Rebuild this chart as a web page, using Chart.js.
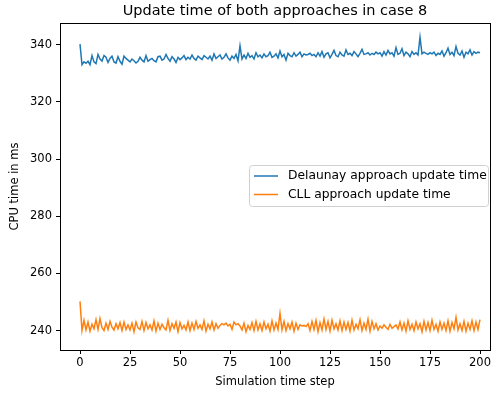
<!DOCTYPE html>
<html>
<head>
<meta charset="utf-8">
<script src="https://cdn.jsdelivr.net/npm/chart.js@4/dist/chart.umd.min.js"></script>
<style>
  body { margin: 0; background: #fff; }
  canvas { display: block; }
</style>
</head>
<body>
<canvas id="chart" width="494" height="394"></canvas>
<script>
// время обновления по шагам симуляции
const delaunayTimes = [
  340.2, 333.0, 334.0, 333.5, 334.2, 333.0, 336.2, 334.0, 333.4, 336.6,
  335.0, 334.3, 336.2, 335.6, 333.8, 335.2, 336.0, 334.0, 333.6, 335.8,
  334.2, 333.2, 336.0, 335.2, 334.6, 334.0, 335.0, 334.4, 333.6, 334.2,
  335.6, 334.6, 334.0, 336.2, 334.2, 334.8, 335.2, 334.4, 334.0, 335.8,
  336.0, 334.6, 335.0, 336.6, 335.2, 334.2, 335.8, 335.0, 333.8, 335.6,
  334.8, 335.4, 336.2, 334.8, 335.6, 335.0, 336.4, 335.2, 334.6, 336.0,
  335.4, 334.8, 336.2, 335.6, 335.0, 336.0, 334.6, 336.8, 335.2, 335.8,
  336.4, 335.0, 335.6, 336.8, 335.4, 334.6, 336.0, 335.2, 336.6, 334.4,
  339.6, 335.0, 336.4, 335.2, 337.0, 335.6, 336.2, 335.0, 337.2, 335.8,
  336.4, 335.4, 336.8, 335.8, 336.2, 337.4, 335.6, 336.0, 336.8, 335.4,
  337.8, 335.8, 336.6, 334.6, 337.0, 336.2, 335.8, 337.2, 336.0, 336.6,
  337.4, 335.8, 336.8, 336.4, 336.6, 337.0, 336.2, 336.6, 335.8, 337.2,
  336.0, 337.6, 335.6, 336.8, 337.2, 335.4, 336.6, 338.0, 336.2, 335.8,
  337.4, 336.4, 336.0, 338.2, 336.6, 337.0, 336.2, 337.6, 336.8, 335.8,
  337.0, 338.4, 336.6, 336.8, 337.2, 336.4, 337.0, 336.6, 337.4, 336.8,
  337.2, 336.0, 337.6, 336.4, 338.0, 336.8, 337.2, 336.0, 339.0, 336.6,
  337.0, 338.6, 336.2, 337.4, 336.8, 335.8, 337.6, 336.6, 337.2, 336.4,
  342.6, 336.8, 337.4, 337.0, 336.6, 337.2, 336.8, 337.4, 336.2, 337.0,
  336.6, 337.8, 336.0, 337.2, 338.8, 336.6, 337.4, 336.2, 339.4, 337.0,
  336.4, 337.8, 335.6, 337.4, 336.8, 338.2, 336.4, 337.6, 337.0, 337.4,
  337.2
];

const cllTimes = [
  250.2, 240.0, 243.6, 240.2, 243.0, 239.8, 242.2, 240.6, 243.8, 240.4,
  244.2, 241.0, 240.0, 242.6, 240.4, 243.2, 241.2, 240.2, 242.4, 240.6,
  242.8, 240.0, 243.0, 240.4, 242.0, 240.2, 242.6, 239.6, 243.0, 241.0,
  240.4, 243.2, 240.0, 242.8, 240.6, 242.0, 240.2, 243.4, 239.8, 242.6,
  240.4, 242.2, 241.0, 240.2, 243.6, 240.0, 242.4, 240.8, 243.0, 239.6,
  242.8, 240.6, 241.8, 240.2, 243.0, 240.0, 242.6, 240.4, 243.2, 240.8,
  242.0, 240.4, 243.4, 239.8, 242.2, 240.6, 243.0, 240.2, 242.4, 240.8,
  241.8, 242.4, 242.0, 242.6, 241.6, 242.2, 240.4, 243.0, 242.0, 242.4,
  241.6, 240.2, 242.6, 239.6, 241.8, 240.4, 242.8, 240.0, 243.2, 240.2,
  242.4, 240.0, 243.0, 240.6, 242.2, 239.8, 243.4, 240.2, 242.6, 240.4,
  246.0, 240.2, 243.2, 240.0, 242.4, 240.6, 243.0, 239.8, 242.6, 240.4,
  242.0, 241.6, 241.8, 241.4, 242.4, 240.0, 243.2, 240.4, 243.6, 239.6,
  242.8, 240.2, 244.0, 240.4, 243.2, 239.8, 243.6, 240.6, 242.4, 240.2,
  243.4, 240.0, 243.0, 240.4, 242.8, 239.8, 243.6, 240.2, 242.2, 240.6,
  243.8, 240.0, 242.6, 240.4, 244.0, 239.8, 243.2, 240.6, 242.4, 240.2,
  241.6, 240.8, 242.0, 241.2, 240.4, 242.2, 240.8, 241.4, 242.0, 240.6,
  243.0, 240.2, 242.6, 239.8, 243.4, 240.4, 242.2, 240.0, 243.0, 240.6,
  242.4, 239.6, 243.2, 240.2, 242.8, 240.0, 243.6, 240.4, 242.2, 239.8,
  243.0, 240.4, 242.6, 240.0, 243.4, 239.8, 242.8, 240.6, 244.6, 240.2,
  242.4, 240.0, 243.2, 239.8, 242.6, 240.4, 243.4, 240.0, 243.0, 240.4,
  243.8
];

const seriesNames = ['Delaunay approach update time', 'CLL approach update time'];
const seriesColors = ['#1f77b4', '#ff7f0e'];
const xTicks = [0, 25, 50, 75, 100, 125, 150, 175, 200];
const yTicks = [240, 260, 280, 300, 320, 340];

const FONT = 'DejaVu Sans';

function toPoints(values) {
  return values.map((v, i) => ({x: i, y: v}));
}

// рамка вокруг области графика как в matplotlib
const framePlugin = {
  id: 'frame',
  afterDraw(chart) {
    const {ctx, chartArea: a} = chart;
    ctx.save();
    ctx.strokeStyle = '#000';
    ctx.lineWidth = 1;
    ctx.strokeRect(Math.round(a.left) + 0.5, Math.round(a.top) + 0.5,
      Math.round(a.right - a.left), Math.round(a.bottom - a.top));
    ctx.restore();
  }
};

const titlePlugin = {
  id: 'mplTitle',
  afterDraw(chart) {
    const {ctx, chartArea: a} = chart;
    ctx.save();
    ctx.fillStyle = '#000';
    ctx.font = '14.5px "' + FONT + '"';
    ctx.textAlign = 'center';
    ctx.textBaseline = 'middle';
    ctx.fillText('Update time of both approaches in case 8', (a.left + a.right) / 2, 11);
    ctx.restore();
  }
};

// легенда внутри области графика
const legendPlugin = {
  id: 'mplLegend',
  afterDraw(chart) {
    const {ctx} = chart;
    const x = 249, y = 165, w = 239, h = 41;
    ctx.save();
    ctx.fillStyle = 'rgba(255,255,255,0.8)';
    ctx.strokeStyle = '#d0d0d0';
    ctx.lineWidth = 1;
    ctx.beginPath();
    ctx.roundRect(x + 0.5, y + 0.5, w, h, 3);
    ctx.fill();
    ctx.stroke();
    ctx.font = '12.3px "' + FONT + '"';
    ctx.textBaseline = 'middle';
    seriesNames.forEach((name, i) => {
      const ly = y + 11 + i * 18.5;
      ctx.strokeStyle = seriesColors[i];
      ctx.lineWidth = 1.5;
      ctx.beginPath();
      ctx.moveTo(x + 5, ly);
      ctx.lineTo(x + 29, ly);
      ctx.stroke();
      ctx.fillStyle = '#000';
      ctx.fillText(name, x + 39, ly);
    });
    ctx.restore();
  }
};

new Chart(document.getElementById('chart'), {
  type: 'scatter',
  data: {
    datasets: [
      {
        label: seriesNames[0],
        data: toPoints(delaunayTimes),
        showLine: true,
        borderColor: seriesColors[0],
        borderWidth: 1.5,
        pointRadius: 0
      },
      {
        label: seriesNames[1],
        data: toPoints(cllTimes),
        showLine: true,
        borderColor: seriesColors[1],
        borderWidth: 1.5,
        pointRadius: 0
      }
    ]
  },
  options: {
    responsive: false,
    animation: false,
    devicePixelRatio: 1,
    layout: {padding: {top: 23, right: 4, left: 0, bottom: 0}},
    plugins: {
      legend: {display: false},
      title: {display: false},
      tooltip: {enabled: false}
    },
    scales: {
      x: {
        type: 'linear',
        min: -10,
        max: 205,
        afterBuildTicks: (axis) => { axis.ticks = xTicks.map(v => ({value: v})); },
        afterFit: (scale) => { scale.height = 44; },
        border: {display: false},
        grid: {display: true, drawOnChartArea: false, drawTicks: true, tickLength: 4, color: '#000'},
        ticks: {color: '#000', font: {family: FONT, size: 11.5}, padding: 2, maxRotation: 0},
        title: {display: true, text: 'Simulation time step', color: '#000',
          font: {family: FONT, size: 11.5}, padding: {top: 0, bottom: 5}}
      },
      y: {
        min: 233.2,
        max: 347.6,
        afterBuildTicks: (axis) => { axis.ticks = yTicks.map(v => ({value: v})); },
        afterFit: (scale) => { scale.width = 60; },
        border: {display: false},
        grid: {display: true, drawOnChartArea: false, drawTicks: true, tickLength: 4, color: '#000'},
        ticks: {color: '#000', font: {family: FONT, size: 11.5}, padding: 4},
        title: {display: true, text: 'CPU time in ms', color: '#000',
          font: {family: FONT, size: 11.5}, padding: {top: 8, bottom: 0}}
      }
    }
  },
  plugins: [framePlugin, titlePlugin, legendPlugin]
});
</script>
</body>
</html>
